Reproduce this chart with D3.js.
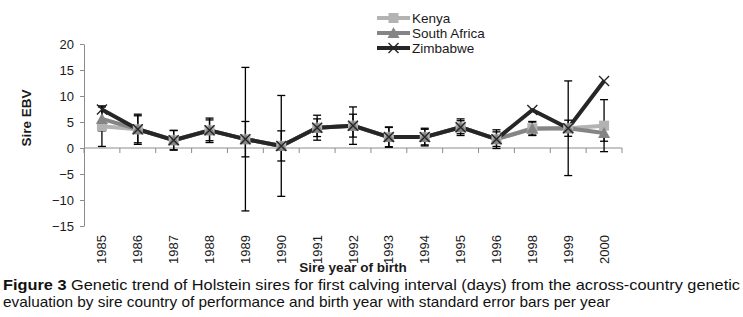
<!DOCTYPE html>
<html>
<head>
<meta charset="utf-8">
<script src="https://cdn.jsdelivr.net/npm/d3@7"></script>
<style>
  body { margin: 0; background: #fff; }
  svg { display: block; font-family: "Liberation Sans", Arial, sans-serif; }
</style>
</head>
<body>
<div id="vis"></div>
<script>
// sire birth years (no 1997 in the data)
var years = ['1985', '1986', '1987', '1988', '1989', '1990', '1991', '1992',
  '1993', '1994', '1995', '1996', '1998', '1999', '2000'];

var kenya = [4.2, 3.6, 1.5, 3.4, 1.7, 0.4, 3.9, 4.3, 2.1, 2.1, 4.0, 1.7, 3.8, 3.8, 4.3];
var southAfrica = [5.6, 3.6, 1.5, 3.4, 1.7, 0.4, 3.9, 4.3, 2.1, 2.1, 4.0, 1.7, 3.7, 3.8, 2.9];
var zimbabwe = [7.4, 3.6, 1.5, 3.4, 1.7, 0.4, 3.9, 4.3, 2.1, 2.1, 4.0, 1.7, 7.3, 3.8, 12.9];

// standard errors (half length of the bars)
var kenyaErr = [3.9, 2.9, 1.9, 2.35, 13.8, 9.7, 2.4, 3.6, 1.95, 1.7, 1.6, 1.8, 1.3, 9.1, 5.0];
var southAfricaErr = [2.3, 2.6, 1.85, 2.0, 3.4, 2.9, 1.7, 2.2, 1.85, 1.5, 1.25, 1.4, 1.3, 1.55, 1.6];

var yTicks = [-15, -10, -5, 0, 5, 10, 15, 20];

var width = 743, height = 317;

var svg = d3.select('#vis')
  .append('svg')
  .attr('width', width)
  .attr('height', height);

var x = d3.scaleBand()
  .domain(years)
  .range([84, 622]);

var y = d3.scaleLinear()
  .domain([-15, 20])
  .range([226, 44]);

function cx(d, i) { return x(years[i]) + x.bandwidth() / 2; }

// y axis
var yAxis = svg.append('g')
  .attr('transform', 'translate(84,0)')
  .call(d3.axisLeft(y).tickValues(yTicks).tickSize(4).tickPadding(6).tickSizeOuter(0));
yAxis.select('.domain').attr('stroke', '#8c8c8c');
yAxis.selectAll('.tick line').attr('stroke', '#8c8c8c');
yAxis.selectAll('text')
  .attr('font-size', '13px')
  .attr('font-family', '"Liberation Sans", Arial, sans-serif')
  .attr('fill', '#1a1a1a');

// category axis crosses at 0
var xAxis = svg.append('g')
  .attr('transform', 'translate(0,' + y(0) + ')');
xAxis.append('line')
  .attr('x1', x.range()[0])
  .attr('x2', x.range()[1])
  .attr('stroke', '#8c8c8c');
xAxis.selectAll('.xtick')
  .data(years.concat(['end']))
  .enter()
  .append('line')
  .attr('x1', function (d, i) { return x.range()[0] + i * x.step(); })
  .attr('x2', function (d, i) { return x.range()[0] + i * x.step(); })
  .attr('y1', 0)
  .attr('y2', 5)
  .attr('stroke', '#8c8c8c');

// year labels at the bottom
svg.append('g')
  .selectAll('text')
  .data(years)
  .enter()
  .append('text')
  .attr('transform', function (d) {
    return 'translate(' + (x(d) + x.bandwidth() / 2) + ',235) rotate(-90)';
  })
  .attr('text-anchor', 'end')
  .attr('dy', '0.35em')
  .attr('font-size', '13px')
  .attr('fill', '#1a1a1a')
  .text(function (d) { return d; });

// axis titles
svg.append('text')
  .attr('transform', 'translate(31,118) rotate(-90)')
  .attr('text-anchor', 'middle')
  .attr('font-size', '13.5px')
  .attr('font-weight', 'bold')
  .attr('fill', '#1a1a1a')
  .text('Sire EBV');

svg.append('text')
  .attr('x', 353)
  .attr('y', 272)
  .attr('text-anchor', 'middle')
  .attr('font-size', '13.5px')
  .attr('font-weight', 'bold')
  .attr('fill', '#1a1a1a')
  .text('Sire year of birth');

var line = d3.line()
  .x(cx)
  .y(function (d) { return y(d); });

var series = [
  { name: 'Kenya', values: kenya, color: '#b3b3b3', marker: 'square' },
  { name: 'South Africa', values: southAfrica, color: '#858585', marker: 'triangle' },
  { name: 'Zimbabwe', values: zimbabwe, color: '#262626', marker: 'cross' }
];

series.forEach(function (s) {
  svg.append('path')
    .datum(s.values)
    .attr('d', line)
    .attr('fill', 'none')
    .attr('stroke', s.color)
    .attr('stroke-width', 4)
    .attr('stroke-linejoin', 'round');
});

// error bars
function errorBars(values, errs) {
  var g = svg.append('g').attr('stroke', '#000').attr('stroke-width', 1.3);
  values.forEach(function (v, i) {
    var xc = cx(v, i);
    var top = y(v + errs[i]), bot = y(v - errs[i]);
    g.append('line').attr('x1', xc).attr('x2', xc).attr('y1', top).attr('y2', bot);
    g.append('line').attr('x1', xc - 4).attr('x2', xc + 4).attr('y1', top).attr('y2', top);
    g.append('line').attr('x1', xc - 4).attr('x2', xc + 4).attr('y1', bot).attr('y2', bot);
  });
}
errorBars(kenya, kenyaErr);
errorBars(southAfrica, southAfricaErr);

function drawMarker(g, type, color, px, py) {
  if (type == 'square') {
    g.append('rect')
      .attr('x', px - 5).attr('y', py - 5)
      .attr('width', 10).attr('height', 10)
      .attr('fill', color);
  } else if (type == 'triangle') {
    g.append('path')
      .attr('d', 'M' + px + ',' + (py - 6) + 'L' + (px + 6) + ',' + (py + 5) + 'L' + (px - 6) + ',' + (py + 5) + 'Z')
      .attr('fill', color);
  } else {
    g.append('path')
      .attr('d', 'M' + (px - 5) + ',' + (py - 5) + 'L' + (px + 5) + ',' + (py + 5) +
        'M' + (px + 5) + ',' + (py - 5) + 'L' + (px - 5) + ',' + (py + 5))
      .attr('stroke', color)
      .attr('stroke-width', 1.4)
      .attr('fill', 'none');
  }
}

series.forEach(function (s) {
  var g = svg.append('g');
  s.values.forEach(function (v, i) {
    drawMarker(g, s.marker, s.color, cx(v, i), y(v));
  });
});

// legend
var legend = svg.append('g');
series.forEach(function (s, i) {
  var ly = 18 + i * 15;
  legend.append('line')
    .attr('x1', 377).attr('x2', 410)
    .attr('y1', ly).attr('y2', ly)
    .attr('stroke', s.color)
    .attr('stroke-width', 4);
  drawMarker(legend, s.marker, s.color, 393.5, ly);
  legend.append('text')
    .attr('x', 412)
    .attr('y', ly)
    .attr('dy', '0.35em')
    .attr('font-size', '13.5px')
    .attr('fill', '#1a1a1a')
    .text(s.name);
});

// figure caption
var cap1 = svg.append('text')
  .attr('x', 3)
  .attr('y', 290)
  .attr('font-size', '15px')
  .attr('fill', '#111')
  .attr('textLength', 737)
  .attr('lengthAdjust', 'spacingAndGlyphs');
cap1.append('tspan').attr('font-weight', 'bold').text('Figure 3');
cap1.append('tspan').text(' Genetic trend of Holstein sires for first calving interval (days) from the across-country genetic');

svg.append('text')
  .attr('x', 3)
  .attr('y', 307)
  .attr('font-size', '15px')
  .attr('fill', '#111')
  .attr('textLength', 607)
  .attr('lengthAdjust', 'spacingAndGlyphs')
  .text('evaluation by sire country of performance and birth year with standard error bars per year');
</script>
</body>
</html>
